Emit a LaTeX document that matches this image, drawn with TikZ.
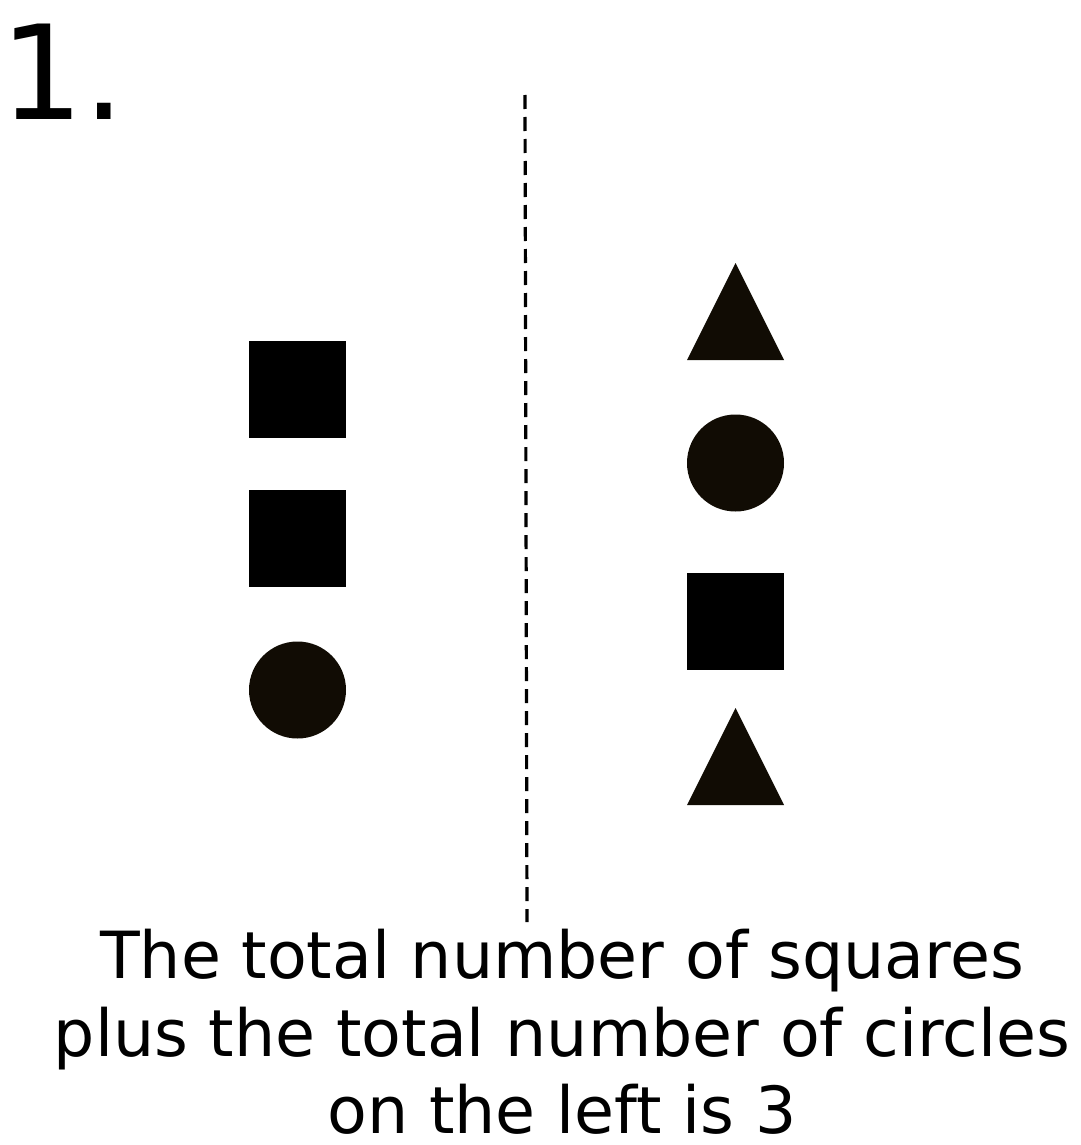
\documentclass[tikz,border=0pt]{standalone}
\usepackage{fontspec}
\setmainfont{DejaVu Sans}
\definecolor{shapedark}{HTML}{110C04}
\begin{document}
\begin{tikzpicture}[x=1pt,y=-1pt,
  txt/.style={inner sep=0pt,font=\fontsize{65}{77}\selectfont,anchor=base},
  darkfill/.style={fill=shapedark},
  blackfill/.style={fill=black}]
\useasboundingbox (0,0) rectangle (1080,1145);
% title number
\node[inner sep=0pt,anchor=base west,font=\fontsize{131}{150}\selectfont] (num) at (0,120) {1.};
% dashed divider
\draw[line width=3.2pt,dash pattern=on 14pt off 8pt] (525,95) -- (527,922);
% left column
\fill[blackfill] (249,341) rectangle (346,438);
\fill[blackfill] (249,490) rectangle (346,587);
\fill[darkfill] (297.5,690) circle (48.5);
% right column
\fill[darkfill] (735.5,263) -- (784,360) -- (687,360) -- cycle;
\fill[darkfill] (735.5,463) circle (48.5);
\fill[blackfill] (687,573) rectangle (784,670);
\fill[darkfill] (735.5,708) -- (784,805) -- (687,805) -- cycle;
% caption
\node[txt] (l1) at (562,978) {The total number of squares};
\node[txt] (l2) at (562,1056) {plus the total number of circles};
\node[txt] (l3) at (562,1133) {on the left is 3};
\end{tikzpicture}
\end{document}
